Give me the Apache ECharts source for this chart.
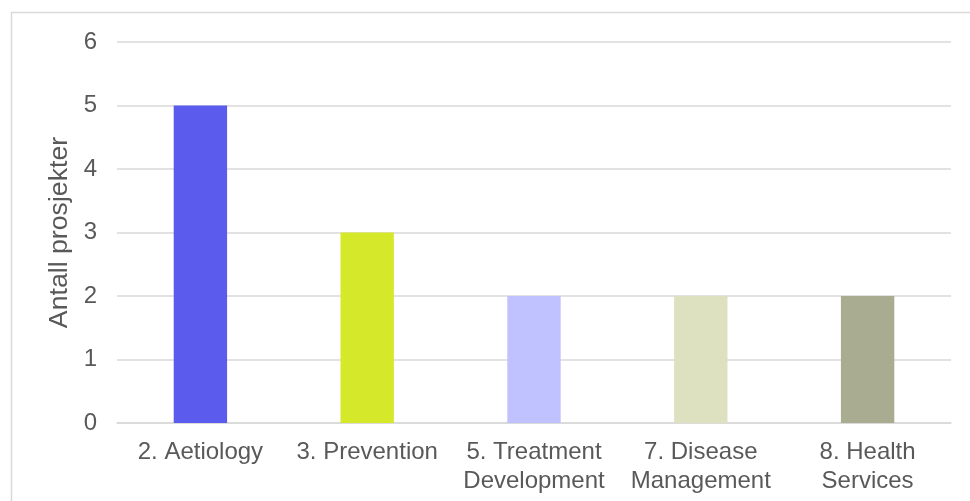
<!DOCTYPE html>
<html>
<head>
<meta charset="utf-8">
<script src="https://cdn.jsdelivr.net/npm/echarts@6/dist/echarts.min.js"></script>
<style>
html,body{margin:0;padding:0;background:#fff;}
#chart{width:970px;height:501px;}
</style>
</head>
<body>
<div id="chart"></div>
<script>
var categories = ['2. Aetiology', '3. Prevention', '5. Treatment\nDevelopment', '7. Disease\nManagement', '8. Health\nServices'];
var values = [5, 3, 2, 2, 2];
var barColors = ['#5B5CEE', '#D5E82A', '#C0C2FF', '#DDE1C0', '#A9AC90'];
var yTicks = [0, 1, 2, 3, 4, 5, 6];
var yAxisName = 'Antall prosjekter';

var chart = echarts.init(document.getElementById('chart'));
var font = 'Liberation Sans, Arial, sans-serif';
chart.setOption({
  animation: false,
  graphic: [{
    type: 'rect',
    shape: {x: 11.5, y: 12.5, width: 1000, height: 600},
    style: {fill: 'none', stroke: '#d9d9d9', lineWidth: 1.5},
    silent: true
  }],
  grid: {left: 117, right: 19, top: 42, bottom: 78},
  xAxis: {
    type: 'category',
    data: categories,
    axisLine: {lineStyle: {color: '#d9d9d9', width: 1.5}},
    axisTick: {show: false},
    axisLabel: {color: '#595959', fontSize: 24, fontFamily: font, margin: 15, lineHeight: 29, interval: 0}
  },
  yAxis: {
    type: 'value',
    min: yTicks[0],
    max: yTicks[yTicks.length - 1],
    interval: 1,
    name: yAxisName,
    nameLocation: 'middle',
    nameGap: 42,
    nameRotate: 90,
    nameTextStyle: {color: '#595959', fontSize: 26.7, fontFamily: font},
    axisLine: {show: false},
    axisTick: {show: false},
    axisLabel: {color: '#595959', fontSize: 24, fontFamily: font, margin: 20},
    splitLine: {lineStyle: {color: '#d9d9d9', width: 1.5}}
  },
  series: [{
    type: 'bar',
    barWidth: '32%',
    data: values.map(function (v, i) { return {value: v, itemStyle: {color: barColors[i]}}; })
  }]
});
</script>
</body>
</html>
